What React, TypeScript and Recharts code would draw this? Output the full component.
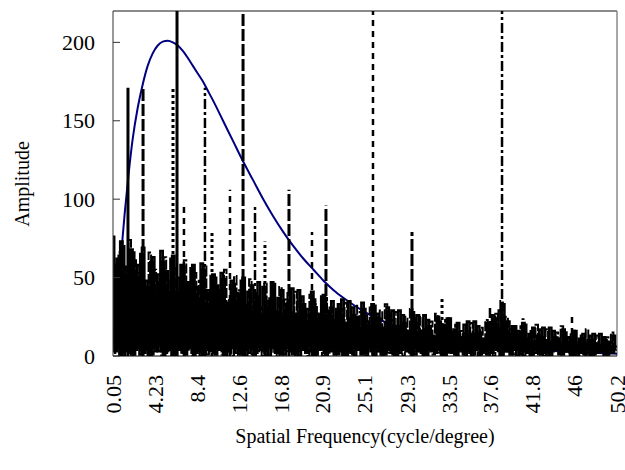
import { LineChart, Line, XAxis, YAxis, ReferenceLine, Label } from 'recharts';

// spectrum bins are evenly spaced (cycle/degree)
const BIN = 0.25;

const xTicks = [0.05, 4.23, 8.4, 12.6, 16.8, 20.9, 25.1, 29.3, 33.5, 37.6, 41.8, 46, 50.2];
const xTickLabels = ['0.05', '4.23', '8.4', '12.6', '16.8', '20.9', '25.1', '29.3', '33.5', '37.6', '41.8', '46', '50.2'];
const yTicks = [0, 50, 100, 150, 200];

// fitted response curve
const curveFreq = [
  0.05, 0.4, 0.8, 1.2, 1.6, 2.0, 2.5, 3.0, 3.5, 4.0, 4.5, 5.0, 5.5, 6.0, 6.5, 7.0, 7.5, 8.0, 8.5, 9.0, 9.5,
  10, 11, 12, 13, 14, 15, 16, 17, 18, 19, 20, 21, 22, 23, 24, 25, 26, 27, 28, 29, 30, 32, 34, 36, 38, 40, 43, 46, 50.2,
];
const curveAmp = [
  8, 30, 60, 90, 116, 138, 158, 173, 185, 193, 198, 200.5, 201, 200, 198, 194.5, 190, 185, 180, 175, 169,
  163, 150, 137, 124, 112, 100, 89, 79, 70, 62, 55, 48, 42, 37, 32.5, 28.5, 25, 22, 19.5, 17, 15, 12, 9.5, 7.5, 6, 4.8, 3.5, 2.5, 1.5,
];

// amplitude spectra (three overlaid traces)
const traceA = [
  76, 3, 62, 0, 70, 5, 48, 2, 66, 4,
  58, 1, 69, 6, 44, 0, 63, 3, 52, 7,
  60, 2, 41, 5, 64, 0, 50, 4, 57, 1,
  47, 6, 58, 2, 36, 0, 55, 5, 42, 3,
  52, 1, 38, 4, 49, 0, 30, 6, 46, 2,
  35, 3, 50, 0, 41, 5, 28, 2, 47, 4,
  44, 0, 31, 6, 46, 2, 37, 1, 25, 5,
  40, 3, 27, 0, 42, 4, 33, 2, 22, 6,
  36, 1, 24, 5, 39, 0, 29, 3, 20, 2,
  33, 4, 21, 0, 35, 2, 26, 6, 18, 1,
  30, 0, 19, 3, 32, 5, 24, 1, 16, 4,
  27, 2, 17, 0, 29, 4, 21, 3, 14, 1,
  24, 5, 15, 2, 26, 0, 19, 3, 12, 4,
  22, 1, 14, 4, 24, 2, 17, 0, 11, 3,
  20, 3, 13, 0, 22, 5, 15, 2, 10, 1,
  18, 2, 24, 4, 29, 0, 21, 3, 14, 5,
  19, 0, 12, 3, 20, 2, 14, 1, 9, 4,
  17, 2, 10, 0, 18, 3, 12, 4, 8, 1,
  15, 3, 9, 1, 16, 0, 11, 2, 7, 4,
  13, 0, 8, 2, 14, 3, 10, 1, 6, 2,
  7,
];
const traceB = [
  2, 58, 5, 73, 0, 55, 4, 68, 1, 50,
  6, 65, 2, 48, 0, 60, 5, 40, 3, 67,
  0, 54, 4, 62, 1, 38, 6, 58, 2, 45,
  5, 56, 0, 44, 3, 59, 1, 33, 4, 51,
  2, 45, 6, 53, 0, 34, 3, 48, 5, 40,
  1, 48, 4, 30, 2, 45, 0, 38, 6, 26,
  3, 35, 0, 47, 5, 28, 2, 42, 1, 33,
  6, 43, 2, 25, 0, 38, 4, 30, 3, 41,
  0, 27, 4, 38, 2, 22, 5, 35, 1, 30,
  3, 36, 1, 20, 5, 31, 0, 25, 4, 34,
  2, 22, 5, 33, 0, 27, 3, 18, 1, 31,
  4, 29, 0, 19, 2, 26, 5, 16, 3, 28,
  1, 26, 3, 16, 0, 23, 4, 13, 2, 25,
  5, 20, 0, 24, 3, 15, 1, 21, 4, 12,
  0, 22, 2, 14, 4, 19, 1, 11, 3, 21,
  2, 26, 5, 17, 0, 33, 3, 22, 1, 19,
  4, 16, 1, 21, 3, 11, 0, 18, 2, 13,
  1, 18, 3, 9, 0, 16, 4, 11, 2, 17,
  3, 12, 0, 16, 2, 8, 4, 14, 1, 10,
  0, 14, 2, 7, 3, 12, 1, 9, 4, 13,
  5,
];
const traceC = [
  45, 7, 66, 1, 57, 3, 74, 0, 61, 5,
  53, 2, 45, 4, 66, 1, 55, 6, 47, 0,
  63, 3, 49, 0, 56, 5, 43, 2, 61, 4,
  38, 0, 53, 6, 48, 2, 57, 1, 40, 3,
  50, 4, 42, 1, 55, 3, 37, 0, 51, 5,
  42, 2, 33, 5, 49, 1, 40, 3, 31, 0,
  46, 5, 38, 2, 30, 0, 44, 4, 36, 3,
  29, 1, 41, 3, 35, 6, 26, 0, 39, 2,
  33, 4, 26, 0, 37, 2, 31, 5, 23, 1,
  30, 0, 34, 3, 24, 1, 32, 4, 28, 2,
  26, 5, 31, 1, 21, 3, 29, 0, 33, 2,
  23, 1, 28, 4, 18, 0, 25, 2, 30, 3,
  21, 3, 25, 0, 17, 4, 22, 1, 27, 2,
  18, 0, 23, 2, 13, 5, 20, 3, 16, 1,
  16, 4, 21, 1, 12, 0, 18, 3, 23, 2,
  20, 0, 27, 3, 35, 5, 25, 2, 17, 1,
  14, 3, 19, 0, 10, 2, 17, 4, 20, 1,
  12, 0, 17, 2, 9, 4, 15, 1, 19, 3,
  11, 2, 15, 0, 8, 3, 13, 1, 17, 2,
  10, 1, 13, 3, 7, 0, 12, 2, 15, 4,
  6,
];

// isolated peaks of each trace
const peaksSolid = [{ f: 1.54, a: 171 }, { f: 6.42, a: 260 }];
const peaksLongDash = [{ f: 3.04, a: 171 }, { f: 12.99, a: 260 }, { f: 17.56, a: 106 }, { f: 21.24, a: 96 }, { f: 29.8, a: 79 }];
const peaksShortDash = [{ f: 7.11, a: 95 }, { f: 11.69, a: 106 }, { f: 19.85, a: 79 }, { f: 25.92, a: 260 }, { f: 45.72, a: 28 }];
const peaksDashDot = [{ f: 9.2, a: 171 }, { f: 38.76, a: 260 }, { f: 14.18, a: 95 }, { f: 37.56, a: 31 }];
const peaksDotted = [{ f: 6.02, a: 171 }, { f: 9.9, a: 79 }, { f: 15.17, a: 73 }, { f: 32.79, a: 37 }, { f: 40.85, a: 24 }];

const toPoints = (start: number, vals: number[]) =>
  vals.map((v, i) => ({ f: +(start + i * BIN).toFixed(3), v }));

const curveData = curveFreq.map((f, i) => ({ f, v: curveAmp[i] }));

const traces = [
  { key: 'a', data: toPoints(0.05, traceA), dash: undefined, width: 2.4 },
  { key: 'b', data: toPoints(0.133, traceB), dash: undefined, width: 2.4 },
  { key: 'c', data: toPoints(0.217, traceC), dash: '10 2', width: 2.0 },
];

const peakGroups = [
  { key: 'solid', peaks: peaksSolid, dash: undefined, width: 3 },
  { key: 'long', peaks: peaksLongDash, dash: '12 3', width: 3 },
  { key: 'short', peaks: peaksShortDash, dash: '6 5', width: 2.5 },
  { key: 'dashdot', peaks: peaksDashDot, dash: '10 3 3 3', width: 2.5 },
  { key: 'dot', peaks: peaksDotted, dash: '3 3', width: 3 },
];

const FONT = '"Liberation Serif", "Times New Roman", serif';

const YTick = (props: any) => {
  const { x, y, payload } = props;
  return (
    <g>
      <line x1={x} x2={x + 7} y1={y} y2={y} stroke="#333" />
      <text x={x - 18} y={y} dy="0.35em" textAnchor="end" fontSize={22} fontFamily={FONT} fill="#000">
        {payload.value}
      </text>
    </g>
  );
};

const XTick = (props: any) => {
  const { x, y, payload } = props;
  const idx = xTicks.indexOf(payload.value);
  const label = idx >= 0 ? xTickLabels[idx] : String(payload.value);
  const ty = y + 19;
  return (
    <text
      x={x}
      y={ty}
      dy="0.35em"
      transform={`rotate(-90, ${x}, ${ty})`}
      textAnchor="end"
      fontSize={22}
      fontFamily={FONT}
      fill="#000"
    >
      {label}
    </text>
  );
};

export default function App() {
  return (
    <div style={{ position: 'absolute', left: 0, top: 0, background: '#fff' }}>
      <LineChart width={625} height={470} margin={{ top: 11, right: 8, bottom: 0, left: 0 }}>
        <XAxis
          type="number"
          dataKey="f"
          domain={[0.05, 50.2]}
          ticks={xTicks}
          allowDataOverflow
          interval={0}
          height={114}
          tickSize={0}
          tickMargin={0}
          tickLine={false}
          axisLine={{ stroke: '#000' }}
          tick={<XTick />}
        >
          <Label
            value="Spatial Frequency(cycle/degree)"
            position="insideBottom"
            offset={27}
            style={{ fontFamily: FONT, fontSize: 20, fill: '#000' }}
          />
        </XAxis>
        <YAxis
          type="number"
          domain={[0, 220]}
          ticks={yTicks}
          allowDataOverflow
          width={113}
          tickSize={0}
          tickMargin={0}
          tickLine={false}
          axisLine={{ stroke: '#333' }}
          tick={<YTick />}
        >
          <Label
            content={() => (
              <text
                x={22}
                y={184}
                dy="0.35em"
                transform="rotate(-90, 22, 184)"
                textAnchor="middle"
                fontSize={20}
                fontFamily={FONT}
                fill="#000"
              >
                Amplitude
              </text>
            )}
          />
        </YAxis>
        <ReferenceLine y={220} stroke="#8a8a8a" strokeWidth={2} />
        <ReferenceLine x={50.2} stroke="#8a8a8a" strokeWidth={1.5} />

        <Line
          data={curveData}
          dataKey="v"
          type="monotone"
          stroke="#000080"
          strokeWidth={2}
          dot={false}
          activeDot={false}
          isAnimationActive={false}
        />

        {traces.map((t) => (
          <Line
            key={t.key}
            data={t.data}
            dataKey="v"
            type="step"
            stroke="#000"
            strokeWidth={t.width}
            strokeDasharray={t.dash}
            dot={false}
            activeDot={false}
            isAnimationActive={false}
          />
        ))}

        {peakGroups.flatMap((g) =>
          g.peaks.map((p, i) => (
            <Line
              key={`${g.key}-${i}`}
              data={[{ f: p.f, v: 0 }, { f: p.f, v: p.a }]}
              dataKey="v"
              type="linear"
              stroke="#000"
              strokeWidth={g.width}
              strokeDasharray={g.dash}
              dot={false}
              activeDot={false}
              isAnimationActive={false}
            />
          ))
        )}
      </LineChart>
    </div>
  );
}
